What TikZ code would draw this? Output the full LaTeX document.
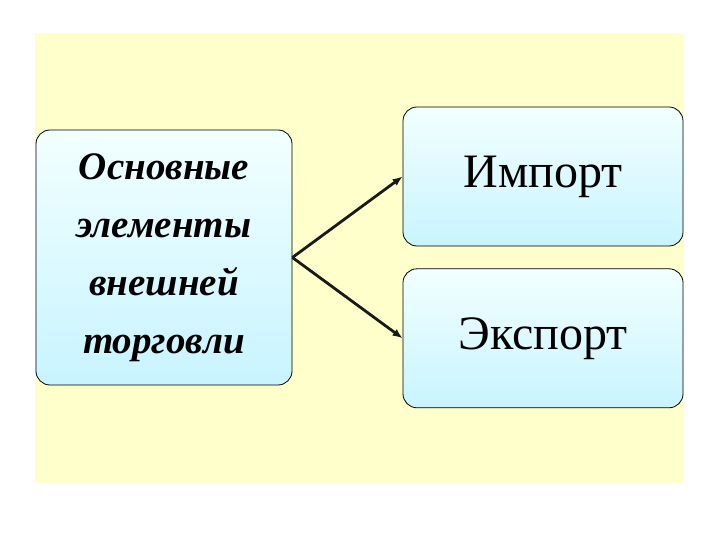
\documentclass[tikz,border=0pt]{standalone}
\usepackage{fontspec}
\setmainfont{Liberation Serif}
\usetikzlibrary{arrows.meta, positioning}

\definecolor{paper}{RGB}{255,255,204}
\definecolor{boxtop}{RGB}{242,255,255}
\definecolor{boxbot}{RGB}{200,244,255}

\begin{document}
\begin{tikzpicture}[
    x=1pt, y=-1pt,
    box/.style={draw, rounded corners=14pt, line width=0.8pt, top color=boxtop, bottom color=boxbot, align=center, inner sep=0pt},
    mainbox/.style={box, minimum width=256pt, minimum height=255pt, font=\fontsize{39}{58}\selectfont\bfseries\itshape},
    sidebox/.style={box, minimum width=280pt, minimum height=139pt, font=\fontsize{48}{50}\selectfont},
    arrow/.style={-{Latex[length=10pt, width=8pt]}, line width=2.8pt, draw=black!90}
]
\useasboundingbox (0,0) rectangle (720,540);
\fill[paper] (35,33) rectangle (684,483);

\node[mainbox] (main) at (164,257.5) {Основные\\элементы\\внешней\\торговли};

\node[sidebox] (import) at (543,176.5) {Импорт};
\node[sidebox, below=22pt of import] (export) {Экспорт};

\draw[arrow] (main.east) -- (import.west);
\draw[arrow] (main.east) -- (export.west);
\end{tikzpicture}
\end{document}
